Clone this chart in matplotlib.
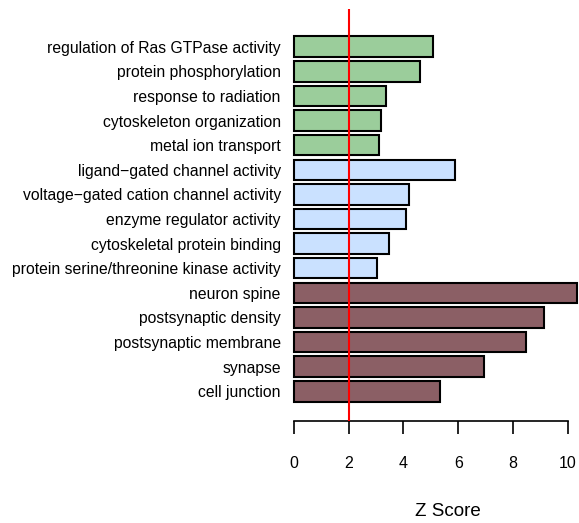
import matplotlib
matplotlib.use('Agg')
import matplotlib.pyplot as plt
import numpy as np

# GO terms, top to bottom
terms = [
    'regulation of Ras GTPase activity',
    'protein phosphorylation',
    'response to radiation',
    'cytoskeleton organization',
    'metal ion transport',
    'ligand\u2212gated channel activity',
    'voltage\u2212gated cation channel activity',
    'enzyme regulator activity',
    'cytoskeletal protein binding',
    'protein serine/threonine kinase activity',
    'neuron spine',
    'postsynaptic density',
    'postsynaptic membrane',
    'synapse',
    'cell junction',
]
z_scores = [5.08, 4.60, 3.36, 3.19, 3.09,
            5.90, 4.22, 4.08, 3.46, 3.02,
            10.35, 9.15, 8.49, 6.95, 5.32]
groups = ['BP'] * 5 + ['MF'] * 5 + ['CC'] * 5
group_colors = {'BP': '#9BCD9B', 'MF': '#CAE1FF', 'CC': '#8B5F65'}
x_ticks = [0, 2, 4, 6, 8, 10]
threshold = 2

plt.rcParams['font.family'] = ['Liberation Sans', 'DejaVu Sans']

fig = plt.figure(figsize=(5.79, 5.23), dpi=100)
W, H = 579, 523
ax = fig.add_axes([294 / W, 1 - 421 / H, (578.6 - 294) / W, (421 - 9) / H])

pos = np.arange(len(terms)) * 1.2
ax.barh(pos, z_scores, height=1.0,
        color=[group_colors[g] for g in groups],
        edgecolor='black', linewidth=1.5, clip_on=False, zorder=2)
ax.axvline(threshold, color='red', linewidth=1.5, zorder=3)

ax.set_xlim(0, 10.4)
ax.set_ylim(18.25, -1.84)

for s in ['top', 'right', 'left']:
    ax.spines[s].set_visible(False)
ax.spines['bottom'].set_bounds(0, 10)
ax.spines['bottom'].set_linewidth(1.2)

ax.set_xticks(x_ticks)
ax.tick_params(axis='x', length=9, width=1.2, pad=16, labelsize=11.5)
ax.set_yticks(pos)
ax.set_yticklabels(terms)
ax.tick_params(axis='y', length=0, pad=9.5, labelsize=11.3)

fig.text(448 / W, 1 - 512 / H, 'Z Score', ha='center', va='center', fontsize=13.5)

fig.savefig('out.png', dpi=100)
